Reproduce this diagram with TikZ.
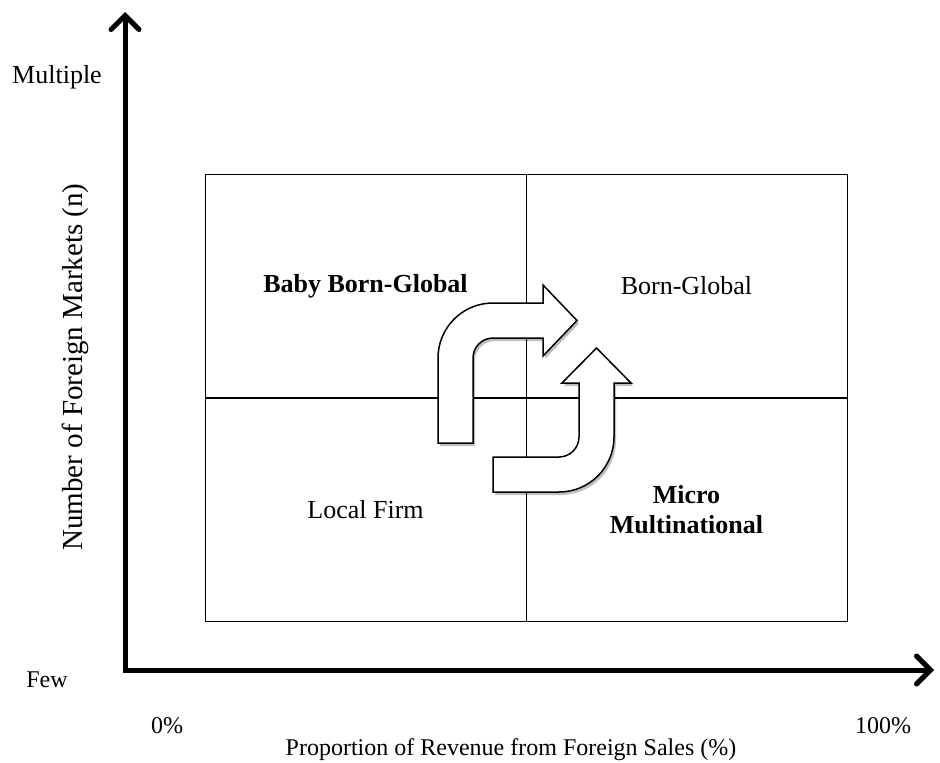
\documentclass[tikz,border=0pt]{standalone}
\usepackage{fontspec}
\setmainfont{Liberation Serif}
\usetikzlibrary{arrows.meta,shadows}
\begin{document}
\begin{tikzpicture}[x=1pt,y=-1pt,
  quad/.style={draw, line width=1pt, minimum width=321pt, minimum height=224pt, inner sep=0pt,
    font=\fontsize{26}{30}\selectfont, align=center},
  lbl/.style={font=\fontsize{24}{28}\selectfont, inner sep=0pt},
  biglbl/.style={font=\fontsize{26}{30}\selectfont, inner sep=0pt},
  bendarrow/.style={draw=black, line width=1.5pt, fill=white, line join=miter,
    drop shadow={shadow xshift=2pt, shadow yshift=-3pt, opacity=0.25, fill=black}},
  axisline/.style={line width=5pt, line join=miter,
    {Straight Barb[length=14pt,width=28pt,line cap=round]}-{Straight Barb[length=14pt,width=28pt,line cap=round]}}
]
\useasboundingbox (0,0) rectangle (940,763);
% quadrants
\node[quad] (tl) at (365.5,286) {\textbf{Baby Born-Global}};
\node[quad] (tr) at (686.5,286) {Born-Global};
\node[quad] (bl) at (365.5,509.5) {Local Firm};
\node[quad] (br) at (686.5,509.5) {\textbf{Micro}\\\textbf{Multinational}};
% axes
\coordinate (ytip) at (125,12);
\coordinate (xtip) at (934,670);
\draw[axisline] (ytip) |- (xtip);
% labels
\node[biglbl] (multiple) at (57,77) {Multiple};
\node[lbl] (few) at (47,680) {Few};
\node[lbl] (zero) at (167,726) {0\%};
\node[lbl] (hundred) at (883,726) {100\%};
\node[lbl] (xtitle) at (511,750) {Proportion of Revenue from Foreign Sales (\%)};
\node[font=\fontsize{29}{33}\selectfont, inner sep=0pt, rotate=90] (ytitle) at (75,367) {Number of Foreign Markets (n)};
% bent arrows
\draw[bendarrow] (438,443) -- (438,358)
  .. controls (438,327.6) and (462.6,303) .. (493,303)
  -- (543,303) -- (543,285) -- (577,320.5) -- (543,356) -- (543,338) -- (493,338)
  .. controls (482,338) and (473,347) .. (473,358)
  -- (473,443) -- cycle;
\draw[bendarrow] (493,457) -- (559,457)
  .. controls (570,457) and (579,448) .. (579,437)
  -- (579,383) -- (562,383) -- (596.5,348) -- (631,383) -- (614,383) -- (614,437)
  .. controls (614,467.4) and (589.4,492) .. (559,492)
  -- (493,492) -- cycle;
\end{tikzpicture}
\end{document}
